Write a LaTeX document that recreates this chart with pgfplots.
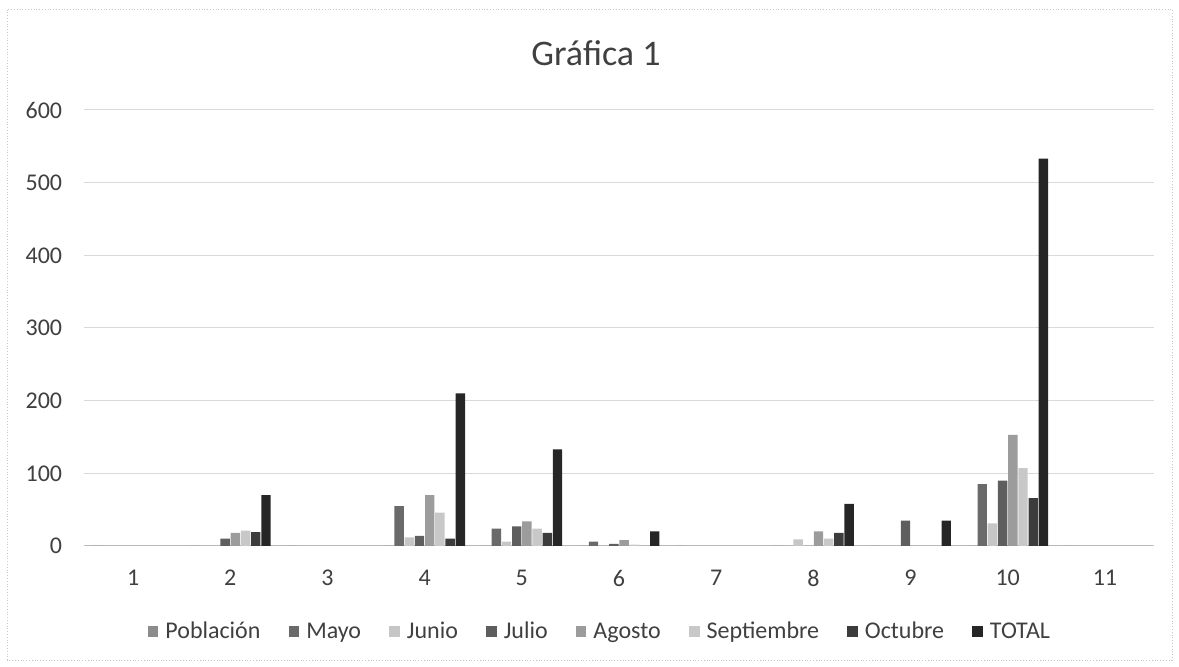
\documentclass[border=0pt]{standalone}
\usepackage{fontspec}
\setmainfont{Carlito}
\usepackage{pgfplots}
\pgfplotsset{compat=1.18}
\definecolor{cPob}{HTML}{8C8C8C}
\definecolor{cMay}{HTML}{6A6A6A}
\definecolor{cJun}{HTML}{C6C6C6}
\definecolor{cJul}{HTML}{5E5E5E}
\definecolor{cAgo}{HTML}{9C9C9C}
\definecolor{cSep}{HTML}{C8C8C8}
\definecolor{cOct}{HTML}{3C3C3C}
\definecolor{cTot}{HTML}{262626}
\definecolor{txt}{HTML}{404040}
\begin{document}
\begin{tikzpicture}
\path[use as bounding box] (0,0) rectangle (589.5pt,333.5pt);
\draw[gray!45, densely dotted, line width=0.4pt] (3.5pt,3.5pt) rectangle (586pt,329pt);
\node[font=\fontsize{18}{21}\selectfont, text=txt] at (298pt,307pt) {Gráfica 1};
\begin{axis}[
  at={(42.25pt,60.5pt)}, anchor=south west,
  scale only axis, width=534.5pt, height=218pt,
  xmin=0.5, xmax=11.5, ymin=0, ymax=600,
  xtick={1,2,3,4,5,6,7,8,9,10,11},
  ytick={0,100,200,300,400,500,600},
  ybar=0.4pt, bar width=4.7pt,
  axis line style={draw=none},
  axis x line*=bottom,
  major tick length=0pt,
  ymajorgrids, grid style={gray!30, line width=0.5pt},
  /pgf/number format/assume math mode=true,
  tick label style={font=\fontsize{12}{14}\selectfont, text=txt, inner sep=0pt},
  yticklabel style={xshift=-11pt},
  xticklabel style={yshift=-12pt},
  legend columns=8,
  legend style={draw=none, at={(axis description cs:0.483,-0.197)}, anchor=center,
    font=\fontsize{12}{14}\selectfont, text=txt,
    /tikz/every odd column/.append style={column sep=1.5pt},
    /tikz/every even column/.append style={column sep=12pt}},
  legend image code/.code={\fill[#1] (0pt,-2.6pt) rectangle (5.4pt,2.8pt);},
  every axis plot/.append style={draw=none},
]
\draw[gray!55, line width=0.5pt] (axis cs:0.5,0) -- (axis cs:11.5,0);
% Poblacion
\addplot[fill=cPob] coordinates {(1,0) (2,0) (3,0) (4,0) (5,0) (6,0) (7,0) (8,0) (9,0) (10,0) (11,0)};
% Mayo
\addplot[fill=cMay] coordinates {(4,55) (5,24) (6,6) (10,85)};
% Junio
\addplot[fill=cJun] coordinates {(4,12) (5,6) (8,9) (10,31)};
% Julio
\addplot[fill=cJul] coordinates {(2,10) (4,14) (5,27) (6,3) (9,35) (10,90)};
% Agosto
\addplot[fill=cAgo] coordinates {(2,18) (4,70) (5,34) (6,8) (8,20) (10,153)};
% Septiembre
\addplot[fill=cSep] coordinates {(2,21) (4,46) (5,24) (6,2) (8,10) (10,107)};
% Octubre
\addplot[fill=cOct] coordinates {(2,19) (4,10) (5,18) (8,18) (10,66)};
% TOTAL
\addplot[fill=cTot] coordinates {(2,70) (4,210) (5,133) (6,20) (8,58) (9,35) (10,533)};
\legend{Población,Mayo,Junio,Julio,Agosto,Septiembre,Octubre,TOTAL}
\end{axis}
\end{tikzpicture}
\end{document}
